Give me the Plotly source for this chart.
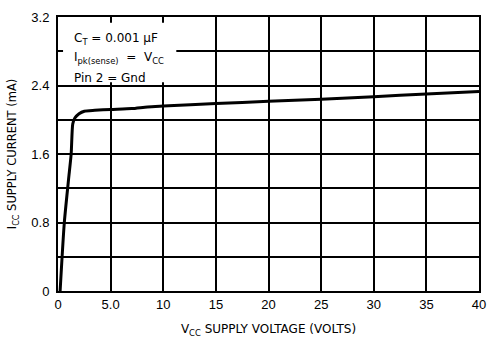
import plotly.graph_objects as go

# Data
vcc = [0.2, 0.6, 1.0, 1.25, 1.4, 1.6, 2.0, 2.5, 3.5, 5, 7, 8.5, 10, 15, 20, 25, 30, 35, 40]
icc = [0.0, 0.8, 1.3, 1.6, 1.95, 2.02, 2.07, 2.1, 2.11, 2.12, 2.13, 2.15, 2.16, 2.19, 2.215, 2.24, 2.27, 2.30, 2.33]

x_ticks = [0, 5, 10, 15, 20, 25, 30, 35, 40]
x_labels = ["0", "5.0", "10", "15", "20", "25", "30", "35", "40"]
y_ticks = [0, 0.8, 1.6, 2.4, 3.2]
y_labels = ["0", "0.8", "1.6", "2.4", "3.2"]
y_minor = [0.4, 1.2, 2.0, 2.8]

notes = ["C<sub>T</sub> = 0.001 μF",
         "I<sub>pk(sense)</sub>  =  V<sub>CC</sub>",
         "Pin 2 = Gnd"]

TICKFONT = "Liberation Sans Narrow, Arial Narrow, sans-serif"
FONT = "DejaVu Sans, sans-serif"

fig = go.Figure()
fig.add_trace(go.Scatter(x=vcc, y=icc, mode="lines",
                         line=dict(color="black", width=3, shape="spline", smoothing=0.6),
                         showlegend=False))

fig.update_xaxes(range=[0, 40], tickvals=x_ticks, ticktext=x_labels,
                 showgrid=True, gridcolor="black", gridwidth=2,
                 showline=True, linecolor="black", linewidth=2, mirror=True,
                 zeroline=False, ticks="",
                 tickfont=dict(family=TICKFONT, size=13, color="black"),
                 title=dict(text="V<sub>CC</sub> SUPPLY VOLTAGE (VOLTS)",
                            font=dict(family=FONT, size=12, color="black"), standoff=14))
fig.update_yaxes(range=[0, 3.2], tickvals=y_ticks, ticktext=y_labels,
                 showgrid=True, gridcolor="black", gridwidth=2,
                 minor=dict(tickvals=y_minor, showgrid=True,
                            gridcolor="black", gridwidth=2),
                 showline=True, linecolor="black", linewidth=2, mirror=True,
                 zeroline=False, ticks="", ticklabelstandoff=4,
                 tickfont=dict(family=TICKFONT, size=13, color="black"),
                 title=dict(text="I<sub>CC</sub> SUPPLY CURRENT (mA)",
                            font=dict(family=FONT, size=11.5, color="black"), standoff=12))

# white box behind the notes (hides the grid there, as in the reference)
fig.add_shape(type="rect", xref="paper", yref="paper",
              x0=0.012, x1=0.281, y0=0.762, y1=0.979,
              fillcolor="white", line=dict(width=0), layer="above")

for txt, yp in zip(notes, [0.918, 0.851, 0.777]):
    fig.add_annotation(xref="paper", yref="paper", x=0.033, y=yp,
                       xanchor="left", yanchor="middle", align="left", showarrow=False,
                       text=txt, font=dict(family=FONT, size=12, color="black"))

fig.update_layout(width=496, height=344, margin=dict(l=58, r=11, t=10, b=52),
                  paper_bgcolor="white", plot_bgcolor="white")

fig.write_html("out.html", config={"displayModeBar": False},
               post_script="document.body.style.margin='0';document.body.style.overflow='hidden';")
